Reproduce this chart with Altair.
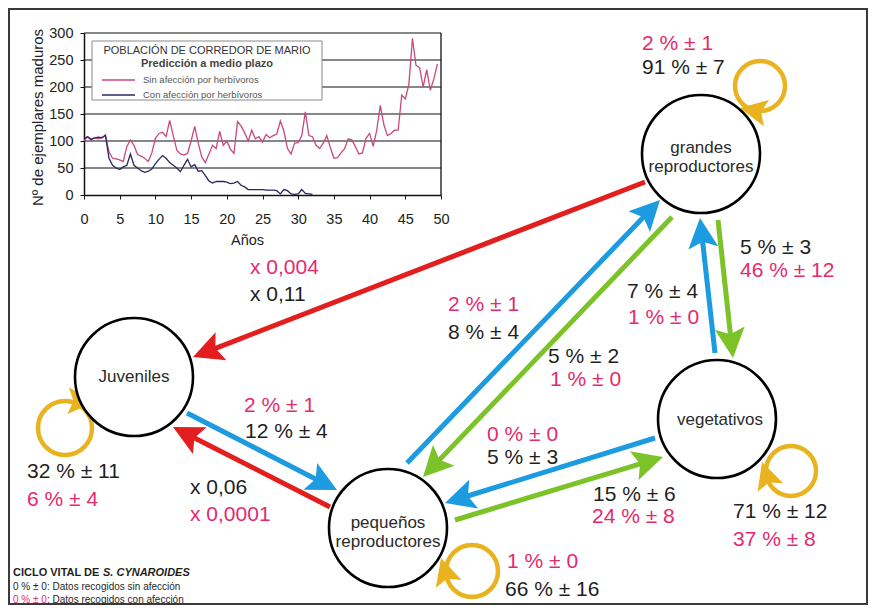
import altair as alt
import pandas as pd

FONT = "Liberation Sans, Arial, Helvetica, sans-serif"
INK = "#1F1F1F"
PINK_TXT = "#E52A6C"

# ---------------- inset: population prediction (data) ----------------
SERIES = ["Sin afección por herbívoros", "Con afección por herbívoros"]
SERIES_COLORS = ["#C9497E", "#28285E"]
YEAR_STEP = 0.5
SIN_VALUES = [100, 108, 102, 106, 104, 106, 110, 80, 68, 67,
              65, 62, 90, 102, 92, 75, 72, 68, 62, 78,
              105, 114, 116, 108, 138, 110, 83, 76, 74, 77,
              100, 127, 96, 70, 60, 76, 92, 86, 118, 92,
              100, 85, 77, 136, 128, 115, 100, 120, 104, 108,
              98, 112, 106, 110, 113, 137, 118, 86, 76, 96,
              97, 110, 154, 110, 108, 92, 86, 96, 110, 88,
              68, 69, 78, 86, 104, 102, 90, 76, 78, 105,
              114, 90, 120, 166, 130, 110, 114, 120, 120, 185,
              178, 205, 290, 240, 236, 200, 232, 194, 215, 243]
CON_VALUES = [104, 108, 103, 106, 107, 106, 111, 68, 55, 50,
              47, 52, 55, 76, 55, 50, 45, 42, 44, 48,
              58, 66, 73, 68, 60, 55, 50, 43, 55, 66,
              52, 56, 44, 45, 36, 26, 22, 25, 25, 25,
              24, 21, 22, 25, 18, 15, 10, 10, 10, 10,
              10, 9, 9, 9, 8, 2, 10, 8, 2, 1,
              2, 10, 3, 2, 1]
X_TICKS = [0, 5, 10, 15, 20, 25, 30, 35, 40, 45, 50]
Y_TICKS = [0, 50, 100, 150, 200, 250, 300]
INSET_TITLE = "POBLACIÓN DE CORREDOR DE MARIO"
INSET_SUBTITLE = "Predicción a medio plazo"

# ---------------- life-cycle diagram (data) ----------------
NODE_LABELS = ["grandes\nreproductores", "Juveniles", "pequeños\nreproductores", "vegetativos"]
TRANS_KIND = ["fecundidad", "fecundidad", "progresión", "progresión", "regresión",
              "progresión", "regresión", "progresión", "regresión"]
RATE_TEXT = ["2 % ± 1", "91 % ± 7", "x 0,004", "x 0,11", "2 % ± 1", "8 % ± 4",
             "5 % ± 2", "1 % ± 0", "7 % ± 4", "1 % ± 0", "5 % ± 3", "46 % ± 12",
             "2 % ± 1", "12 % ± 4", "32 % ± 11", "6 % ± 4", "x 0,06", "x 0,0001",
             "0 % ± 0", "5 % ± 3", "15 % ± 6", "24 % ± 8", "71 % ± 12", "37 % ± 8",
             "1 % ± 0", "66 % ± 16"]
RATE_CLASS = ["con afección", "sin afección", "con afección", "sin afección",
              "con afección", "sin afección", "sin afección", "con afección",
              "sin afección", "con afección", "sin afección", "con afección",
              "con afección", "sin afección", "sin afección", "con afección",
              "sin afección", "con afección", "con afección", "sin afección",
              "sin afección", "con afección", "sin afección", "con afección",
              "con afección", "sin afección"]
CAPTION = ["CICLO VITAL DE ", "S. CYNAROIDES"]
KEY_SAMPLE = "0 % ± 0"
KEY_TEXT = [": Datos recogidos sin afección", ": Datos recogidos con afección"]
KEY_CLASS = ["sin afección", "con afección"]

# ---------------- layout (positions / sizes, reference pixels) ----------------
W, H = 858, 595
OX, OY = 9, 9
NODE_POS = [(701, 154), (134, 377), (388, 528), (717, 419)]
NODE_R = 59
LABEL_POS = [(701, 148), (134, 377), (388, 523), (720, 420)]
ARROW_PTS = [((645, 182), (193, 357)), ((330, 507), (173, 427)), ((187, 413), (337, 490)),
             ((407, 463), (660, 200)), ((672, 217), (423, 477)), ((715, 353), (700, 218)),
             ((718, 220), (733, 358)), ((655, 438), (445, 503)), ((455, 520), (663, 457))]
LOOP_CENTER = [(760, 86), (65, 428), (472, 571), (791, 471)]
LOOP_R = [25, 27, 26, 25]
LOOP_TIP = [(740, 108), (95, 402), (441, 558), (762, 462)]
LOOP_DIR = [(-31, -6), (1, 0.05), (-0.3, -1), (-0.33, -1)]
RATE_POS = [(642, 44), (642, 68), (250, 268), (250, 295), (448, 305), (448, 333),
            (548, 357), (550, 380), (627, 292), (628, 318), (740, 248), (740, 271),
            (244, 406), (245, 432), (27, 472), (27, 500), (190, 488), (190, 515),
            (487, 435), (487, 458), (593, 495), (592, 517), (733, 512), (733, 540),
            (507, 562), (505, 590)]
RATE_FONT = 21
INSET_X_RANGE = (84, 441)
INSET_Y_RANGE = (195, 33)
LEGEND_BOX = (92, 41, 322, 100)
LEGEND_TITLE_POS = [(207, 51), (207, 64)]
LEGEND_SAMPLE_X = (102, 135)
LEGEND_ROWS_Y = [80, 95]
LEGEND_LABEL_X = 143
CAPTION_X = [13, 103]
CAPTION_Y = 573
KEY_X = [13, 47]
KEY_Y = [587, 600]

HEAD = "M0,0L-0.5,1L0,0.8L0.5,1Z"

DIAG_CLASSES = ["fecundidad", "progresión", "regresión", "permanencia",
                "sin afección", "con afección"] + SERIES
DIAG_COLORS = ["#E31E1E", "#1C9BE0", "#7CC32A", "#E9B21F", INK, PINK_TXT] + SERIES_COLORS
DCOL = alt.Scale(domain=DIAG_CLASSES, range=DIAG_COLORS)

DX_SCALE = alt.Scale(domain=[OX, OX + W], nice=False, zero=False)
DY_SCALE = alt.Scale(domain=[OY, OY + H], reverse=True, nice=False, zero=False)


def DX(f):
    return alt.X(f, type="quantitative", scale=DX_SCALE, axis=None)


def DY(f):
    return alt.Y(f, type="quantitative", scale=DY_SCALE, axis=None)


def DC(f="clase"):
    return alt.Color(f, type="nominal", scale=DCOL, legend=None)


# ---------------- inset chart ----------------
IX = alt.Scale(domain=[0, 50], range=[INSET_X_RANGE[0] - OX, INSET_X_RANGE[1] - OX],
               nice=False, zero=False)
IY = alt.Scale(domain=[0, 300], range=[INSET_Y_RANGE[0] - OY, INSET_Y_RANGE[1] - OY],
               nice=False, zero=False)
X_AXIS = alt.Axis(orient="bottom", offset=-(H - (INSET_Y_RANGE[0] - OY)), values=X_TICKS,
                  title="Años", labelFontSize=14.5, labelColor="#222", labelPadding=13,
                  tickSize=4, tickColor="#111", domainColor="#111", domainWidth=1.5,
                  grid=False, labelFlush=False, labelOverlap=False,
                  titleFontSize=14.5, titleFontWeight="normal", titleColor="#222",
                  titleX=247 - OX, titleY=45, titleAlign="center", titleBaseline="middle")
Y_AXIS = alt.Axis(orient="left", offset=-(INSET_X_RANGE[0] - OX), values=Y_TICKS,
                  title="Nº de ejemplares maduros", labelFontSize=14.5, labelColor="#222",
                  labelPadding=7, tickSize=4, tickColor="#111", domainColor="#111",
                  domainWidth=1.5, grid=False, labelFlush=False, labelOverlap=False,
                  titleFontSize=15, titleFontWeight="normal", titleColor="#222",
                  titleX=37 - INSET_X_RANGE[0], titleY=117 - OY, titleAngle=270,
                  titleAlign="center", titleBaseline="middle")

grid_df = pd.DataFrame({"v": Y_TICKS[1:], "a": 0, "b": 50})
grid = alt.Chart(grid_df).mark_rule(color="#111", strokeWidth=1.1).encode(
    x=alt.X("a:Q", scale=IX, axis=X_AXIS), x2="b:Q",
    y=alt.Y("v:Q", scale=IY, axis=Y_AXIS))
edge_df = pd.DataFrame({"a": [50], "lo": [0], "hi": [300]})
edge = alt.Chart(edge_df).mark_rule(color="#111", strokeWidth=1.3).encode(
    x=alt.X("a:Q", scale=IX, axis=X_AXIS),
    y=alt.Y("lo:Q", scale=IY, axis=Y_AXIS), y2="hi:Q")

sin_df = pd.DataFrame({"year": [i * YEAR_STEP for i in range(len(SIN_VALUES))],
                       "value": SIN_VALUES, "serie": SERIES[0]})
con_df = pd.DataFrame({"year": [i * YEAR_STEP for i in range(len(CON_VALUES))],
                       "value": CON_VALUES, "serie": SERIES[1]})
ICOL = alt.Color("serie:N", scale=alt.Scale(domain=SERIES, range=SERIES_COLORS), legend=None)


def series_line(df):
    return alt.Chart(df).mark_line(strokeWidth=1.3).encode(
        x=alt.X("year:Q", scale=IX, axis=X_AXIS),
        y=alt.Y("value:Q", scale=IY, axis=Y_AXIS), color=ICOL)


inset = alt.layer(grid, edge, series_line(sin_df), series_line(con_df))

# ---------------- diagram ----------------
arrows_df = pd.DataFrame({
    "clase": TRANS_KIND,
    "sx": [p[0][0] for p in ARROW_PTS], "sy": [p[0][1] for p in ARROW_PTS],
    "tx": [p[1][0] for p in ARROW_PTS], "ty": [p[1][1] for p in ARROW_PTS],
})
arrow_base = alt.Chart(arrows_df).transform_calculate(
    dx="datum.tx - datum.sx", dy="datum.ty - datum.sy"
).transform_calculate(
    len="sqrt(datum.dx * datum.dx + datum.dy * datum.dy)"
).transform_calculate(
    ex="datum.tx - datum.dx / datum.len * 22",
    ey="datum.ty - datum.dy / datum.len * 22",
    ang="(atan2(datum.dx, -datum.dy) * 180 / PI + 360) % 360",
)
shafts = arrow_base.mark_rule(strokeWidth=5, strokeCap="butt").encode(
    x=DX("sx"), y=DY("sy"), x2="ex:Q", y2="ey:Q", color=DC())
heads = arrow_base.mark_point(shape=HEAD, size=3600, filled=True, opacity=1,
                              strokeWidth=0).encode(
    x=DX("tx"), y=DY("ty"), angle=alt.Angle("ang:Q", scale=None), color=DC())

loops_df = pd.DataFrame({
    "clase": "permanencia",
    "cx": [c[0] for c in LOOP_CENTER], "cy": [c[1] for c in LOOP_CENTER],
    "r": LOOP_R,
    "tx": [t[0] for t in LOOP_TIP], "ty": [t[1] for t in LOOP_TIP],
    "dx": [d[0] for d in LOOP_DIR], "dy": [d[1] for d in LOOP_DIR],
})
loop_base = alt.Chart(loops_df).transform_calculate(
    sz="(2 * datum.r) * (2 * datum.r)",
    ang="(atan2(datum.dx, -datum.dy) * 180 / PI + 360) % 360",
)
loops = loop_base.mark_point(shape="circle", filled=False, strokeWidth=4.5, opacity=1).encode(
    x=DX("cx"), y=DY("cy"), size=alt.Size("sz:Q", scale=None), color=DC())
loop_heads = loop_base.mark_point(shape=HEAD, size=2900, filled=True, opacity=1,
                                  strokeWidth=0).encode(
    x=DX("tx"), y=DY("ty"), angle=alt.Angle("ang:Q", scale=None), color=DC())

nodes_df = pd.DataFrame({"x": [p[0] for p in NODE_POS], "y": [p[1] for p in NODE_POS],
                         "label": NODE_LABELS,
                         "lx": [p[0] for p in LABEL_POS], "ly": [p[1] for p in LABEL_POS]})
nodes = alt.Chart(nodes_df).mark_point(shape="circle", filled=True, fill="white",
                                       stroke="black", strokeWidth=2.6, opacity=1,
                                       size=(2 * NODE_R) ** 2).encode(x=DX("x"), y=DY("y"))
node_text = alt.Chart(nodes_df).mark_text(fontSize=17, lineBreak="\n", lineHeight=19,
                                          align="center", baseline="middle",
                                          color="#2A2A2A").encode(
    x=DX("lx"), y=DY("ly"), text="label:N")

rates_df = pd.DataFrame({"t": RATE_TEXT, "clase": RATE_CLASS,
                         "x": [p[0] for p in RATE_POS], "y": [p[1] for p in RATE_POS]})
rates = alt.Chart(rates_df).mark_text(fontSize=RATE_FONT, align="left", baseline="middle").encode(
    x=DX("x"), y=DY("y"), text="t:N", color=DC())

# inset legend box
box_df = pd.DataFrame({"x0": [LEGEND_BOX[0]], "y0": [LEGEND_BOX[1]],
                       "x1": [LEGEND_BOX[2]], "y1": [LEGEND_BOX[3]]})
box = alt.Chart(box_df).mark_rect(fill="white", stroke="#8A8A8A", strokeWidth=1).encode(
    x=DX("x0"), y=DY("y0"), x2="x1:Q", y2="y1:Q")
ltitle_df = pd.DataFrame({"t": [INSET_TITLE], "x": [LEGEND_TITLE_POS[0][0]],
                          "y": [LEGEND_TITLE_POS[0][1]]})
lsub_df = pd.DataFrame({"t": [INSET_SUBTITLE], "x": [LEGEND_TITLE_POS[1][0]],
                        "y": [LEGEND_TITLE_POS[1][1]]})
ltitle = alt.Chart(ltitle_df).mark_text(fontSize=11, align="center", baseline="middle",
                                        color="#333").encode(x=DX("x"), y=DY("y"), text="t:N")
lsub = alt.Chart(lsub_df).mark_text(fontSize=11, fontWeight="bold", align="center",
                                    baseline="middle", color="#444").encode(
    x=DX("x"), y=DY("y"), text="t:N")
lrows_df = pd.DataFrame({"clase": SERIES, "y": LEGEND_ROWS_Y,
                         "a": LEGEND_SAMPLE_X[0], "b": LEGEND_SAMPLE_X[1],
                         "lx": LEGEND_LABEL_X})
lsamples = alt.Chart(lrows_df).mark_rule(strokeWidth=1.6).encode(
    x=DX("a"), x2="b:Q", y=DY("y"), color=DC())
llabels = alt.Chart(lrows_df).mark_text(fontSize=9.5, align="left", baseline="middle",
                                        color="#555").encode(
    x=DX("lx"), y=DY("y"), text="clase:N")

# caption (bottom-left)
cap1 = alt.Chart(pd.DataFrame({"t": [CAPTION[0]], "x": [CAPTION_X[0]], "y": [CAPTION_Y]})
                 ).mark_text(fontSize=11, fontWeight="bold", align="left", baseline="middle",
                             color=INK).encode(x=DX("x"), y=DY("y"), text="t:N")
cap2 = alt.Chart(pd.DataFrame({"t": [CAPTION[1]], "x": [CAPTION_X[1]], "y": [CAPTION_Y]})
                 ).mark_text(fontSize=11, fontWeight="bold", fontStyle="italic", align="left",
                             baseline="middle", color=INK).encode(
    x=DX("x"), y=DY("y"), text="t:N")
key_df = pd.DataFrame({"s": [KEY_SAMPLE, KEY_SAMPLE], "t": KEY_TEXT, "clase": KEY_CLASS,
                       "x0": KEY_X[0], "x1": KEY_X[1], "y": KEY_Y})
key_sample = alt.Chart(key_df).mark_text(fontSize=10, align="left", baseline="middle").encode(
    x=DX("x0"), y=DY("y"), text="s:N", color=DC())
key_text = alt.Chart(key_df).mark_text(fontSize=10, align="left", baseline="middle",
                                       color=INK).encode(x=DX("x1"), y=DY("y"), text="t:N")

diagram = alt.layer(box, ltitle, lsub, lsamples, llabels,
                    shafts, loops, loop_heads, nodes, heads, node_text, rates,
                    cap1, cap2, key_sample, key_text)

chart = alt.layer(inset, diagram).resolve_scale(
    x="independent", y="independent", color="independent"
).properties(
    width=W, height=H, padding=1, autosize="none"
).configure(font=FONT).configure_view(stroke="#3A3A3A", strokeWidth=2)

chart.save("out.html", embed_options={"renderer": "svg", "actions": False})
